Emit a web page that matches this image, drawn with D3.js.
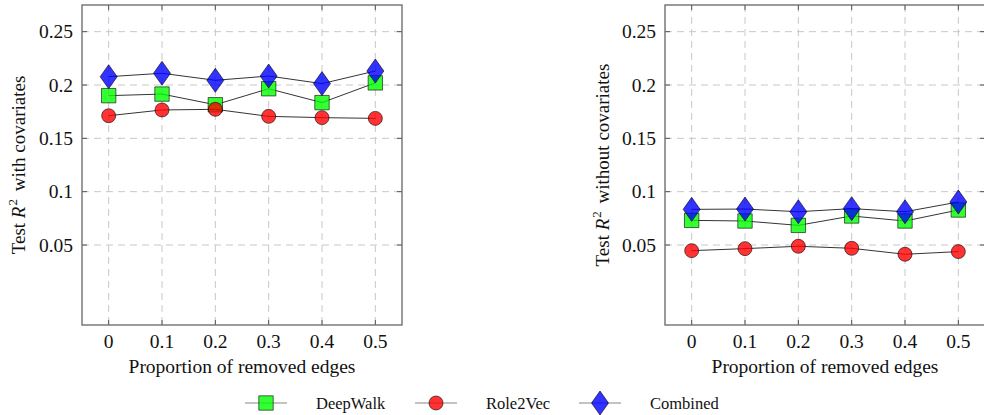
<!DOCTYPE html>
<html>
<head>
<meta charset="utf-8">
<script src="https://cdn.jsdelivr.net/npm/d3@7"></script>
<style>
  html, body { margin: 0; padding: 0; background: #fff; }
  svg { display: block; }
  svg text { font-family: "Liberation Serif", "Times New Roman", serif; fill: #111; }
</style>
</head>
<body>
<svg id="chart" width="984" height="415"></svg>
<script>
// Proportion of removed edges (x values)
const proportions = [0, 0.1, 0.2, 0.3, 0.4, 0.5];
const xTickLabels = ["0", "0.1", "0.2", "0.3", "0.4", "0.5"];
const yTicks = [0.05, 0.1, 0.15, 0.2, 0.25];
const yTickLabels = ["0.05", "0.1", "0.15", "0.2", "0.25"];

// Test R² with covariates
const deepWalkWith = [0.190, 0.1915, 0.1815, 0.1965, 0.1835, 0.202];
const role2VecWith = [0.1712, 0.1766, 0.1772, 0.1706, 0.1694, 0.1687];
const combinedWith = [0.2078, 0.211, 0.2044, 0.2084, 0.2013, 0.2131];

// Test R² without covariates
const deepWalkWithout = [0.0731, 0.0725, 0.0684, 0.0772, 0.0725, 0.0828];
const role2VecWithout = [0.0447, 0.0466, 0.0488, 0.0469, 0.0413, 0.0438];
const combinedWithout = [0.0834, 0.0837, 0.0812, 0.0841, 0.0812, 0.0903];

const seriesNames = ["DeepWalk", "Role2Vec", "Combined"];
const seriesColors = ["#00ff00", "#ff0000", "#0000ff"];
const seriesShapes = ["square", "circle", "diamond"];

const svg = d3.select("#chart");

function markerPath(shape) {
  if (shape === "square") return "M-7.2,-7.2H7.2V7.2H-7.2Z";
  if (shape === "circle") return d3.symbol(d3.symbolCircle, Math.PI * 7 * 7)();
  return "M0,-12L8.5,0L0,12L-8.5,0Z";
}

function drawPanel(left, titleParts, seriesData, labelX) {
  const top = 5, bottom = 325, width = 320;
  const x = d3.scaleLinear().domain([-0.05, 0.55]).range([left, left + width]);
  const y = d3.scaleLinear().domain([-0.025, 0.275]).range([bottom, top]);
  const g = svg.append("g");

  // dashed grid
  g.selectAll(".vgrid").data(proportions).enter().append("line")
    .attr("x1", d => x(d)).attr("x2", d => x(d))
    .attr("y1", top).attr("y2", bottom)
    .attr("stroke", "#c8c8c8").attr("stroke-width", 1)
    .attr("stroke-dasharray", "7,5");
  g.selectAll(".hgrid").data(yTicks).enter().append("line")
    .attr("y1", d => y(d)).attr("y2", d => y(d))
    .attr("x1", left).attr("x2", left + width)
    .attr("stroke", "#c8c8c8").attr("stroke-width", 1)
    .attr("stroke-dasharray", "7,5");

  // inward ticks on all four sides
  const tk = 5, tc = "#555";
  proportions.forEach(d => {
    g.append("line").attr("x1", x(d)).attr("x2", x(d)).attr("y1", bottom).attr("y2", bottom - tk).attr("stroke", tc);
    g.append("line").attr("x1", x(d)).attr("x2", x(d)).attr("y1", top).attr("y2", top + tk).attr("stroke", tc);
  });
  yTicks.forEach(d => {
    g.append("line").attr("x1", left).attr("x2", left + tk).attr("y1", y(d)).attr("y2", y(d)).attr("stroke", tc);
    g.append("line").attr("x1", left + width).attr("x2", left + width - tk).attr("y1", y(d)).attr("y2", y(d)).attr("stroke", tc);
  });

  // frame
  g.append("rect").attr("x", left).attr("y", top).attr("width", width).attr("height", bottom - top)
    .attr("fill", "none").attr("stroke", "#666").attr("stroke-width", 1.3);

  // tick labels
  g.selectAll(".xl").data(proportions).enter().append("text")
    .attr("x", d => x(d)).attr("y", 348)
    .attr("text-anchor", "middle")
    .style("font-size", "19.5px")
    .text((d, i) => xTickLabels[i]);
  g.selectAll(".yl").data(yTicks).enter().append("text")
    .attr("x", left - 9).attr("y", d => y(d) + 6.5)
    .attr("text-anchor", "end")
    .style("font-size", "19.5px")
    .text((d, i) => yTickLabels[i]);

  // axis titles
  g.append("text").attr("x", left + width / 2).attr("y", 373)
    .attr("text-anchor", "middle")
    .style("font-size", "19.5px")
    .text("Proportion of removed edges");

  const yt = g.append("text")
    .attr("transform", `translate(${labelX},${(top + bottom) / 2}) rotate(-90)`)
    .attr("text-anchor", "middle")
    .style("font-size", "19px");
  yt.append("tspan").text("Test\u00a0");
  yt.append("tspan").style("font-style", "italic").text("R");
  yt.append("tspan").style("font-size", "13px").attr("dy", -8).attr("dx", 1).text("2");
  yt.append("tspan").attr("dy", 8).attr("dx", 3).text("\u00a0" + titleParts);

  // series: line then markers
  const line = d3.line().x((d, i) => x(proportions[i])).y(d => y(d));
  seriesData.forEach((vals, s) => {
    g.append("path").datum(vals).attr("d", line)
      .attr("fill", "none").attr("stroke", "#000").attr("stroke-width", 0.8);
    g.selectAll(".m" + s).data(vals).enter().append("path")
      .attr("d", markerPath(seriesShapes[s]))
      .attr("transform", (d, i) => `translate(${x(proportions[i])},${y(d)})`)
      .attr("fill", seriesColors[s]).attr("fill-opacity", 0.8)
      .attr("stroke", "#000").attr("stroke-opacity", 0.75).attr("stroke-width", 0.8);
  });
}

drawPanel(82, "with covariates", [deepWalkWith, role2VecWith, combinedWith], 25);
drawPanel(665, "without covariates", [deepWalkWithout, role2VecWithout, combinedWithout], 609);

// legend
const legendX = [266, 436, 600];
const legendY = 403;
const lg = svg.append("g");
seriesNames.forEach((name, s) => {
  lg.append("line").attr("x1", legendX[s] - 21).attr("x2", legendX[s] + 21)
    .attr("y1", legendY).attr("y2", legendY)
    .attr("stroke", "#000").attr("stroke-opacity", 0.6).attr("stroke-width", 0.8);
  lg.append("path").attr("d", markerPath(seriesShapes[s]))
    .attr("transform", `translate(${legendX[s]},${legendY})`)
    .attr("fill", seriesColors[s]).attr("fill-opacity", 0.8)
    .attr("stroke", "#000").attr("stroke-opacity", 0.75).attr("stroke-width", 0.8);
  lg.append("text").attr("x", legendX[s] + 50).attr("y", legendY + 5.5)
    .style("font-size", "16.5px")
    .text(name);
});
</script>
</body>
</html>
